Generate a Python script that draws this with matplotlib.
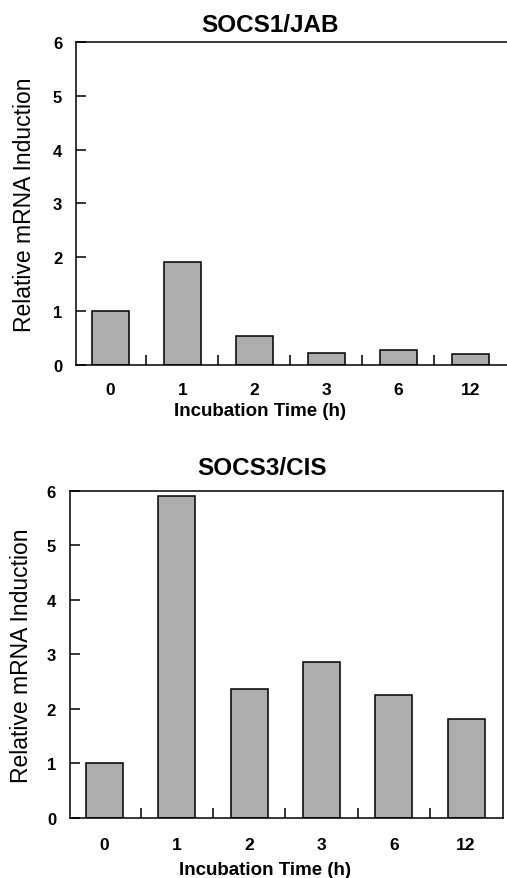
import matplotlib
matplotlib.use("Agg")
import matplotlib.pyplot as plt
import numpy as np

plt.rcParams['font.family'] = ['Liberation Sans', 'DejaVu Sans']

categories = ["0", "1", "2", "3", "6", "12"]
socs1_values = [1.0, 1.91, 0.54, 0.23, 0.27, 0.21]
socs3_values = [1.0, 5.90, 2.36, 2.86, 2.25, 1.81]
titles = ["SOCS1/JAB", "SOCS3/CIS"]
yticks = [0, 1, 2, 3, 4, 5, 6]

fig = plt.figure(figsize=(5.07, 8.79), dpi=100)
ax1 = fig.add_axes([0.150, 0.5836, 0.850, 0.3675])
ax2 = fig.add_axes([0.138, 0.0683, 0.854, 0.3723])

bar_color = '#adadad'

configs = [
    (ax1, socs1_values, titles[0], True, 8, 12, 4, 12, 0.45, 0.427),
    (ax2, socs3_values, titles[1], False, 12, 13.5, 7, 10, 0.443, 0.451),
]

for ax, vals, title, hide_right, tpad, xpad, xlpad, ylpad, tx, lx in configs:
    x = np.arange(len(categories))
    ax.bar(x, vals, width=0.51, color=bar_color, edgecolor='black', linewidth=1.1, zorder=2)
    ax.set_xlim(-0.477, 5.51)
    ax.set_ylim(0, 6)
    ax.set_yticks(yticks)
    ax.set_yticklabels([str(t) for t in yticks], fontsize=12, fontweight='bold')
    ax.set_xticks(x)
    ax.set_xticklabels(categories, fontsize=12.5, fontweight='bold')
    ax.set_xticks(x[:-1] + 0.5, minor=True)
    ax.tick_params(axis='x', which='major', length=0, pad=xpad)
    ax.tick_params(axis='x', which='minor', direction='in', length=7, width=1.1)
    ax.tick_params(axis='y', which='major', direction='in', length=7, width=1.1, pad=10)
    for s in ax.spines.values():
        s.set_linewidth(1.1)
    if hide_right:
        ax.spines['right'].set_visible(False)
    ax.set_title(title, fontsize=17.5, fontweight='bold', pad=tpad, x=tx)
    ax.set_xlabel("Incubation Time (h)", fontsize=13.5, fontweight='bold', labelpad=xlpad, x=lx)
    ax.set_ylabel("Relative mRNA Induction", fontsize=16.5, labelpad=ylpad)

fig.savefig("out.png", dpi=100)
